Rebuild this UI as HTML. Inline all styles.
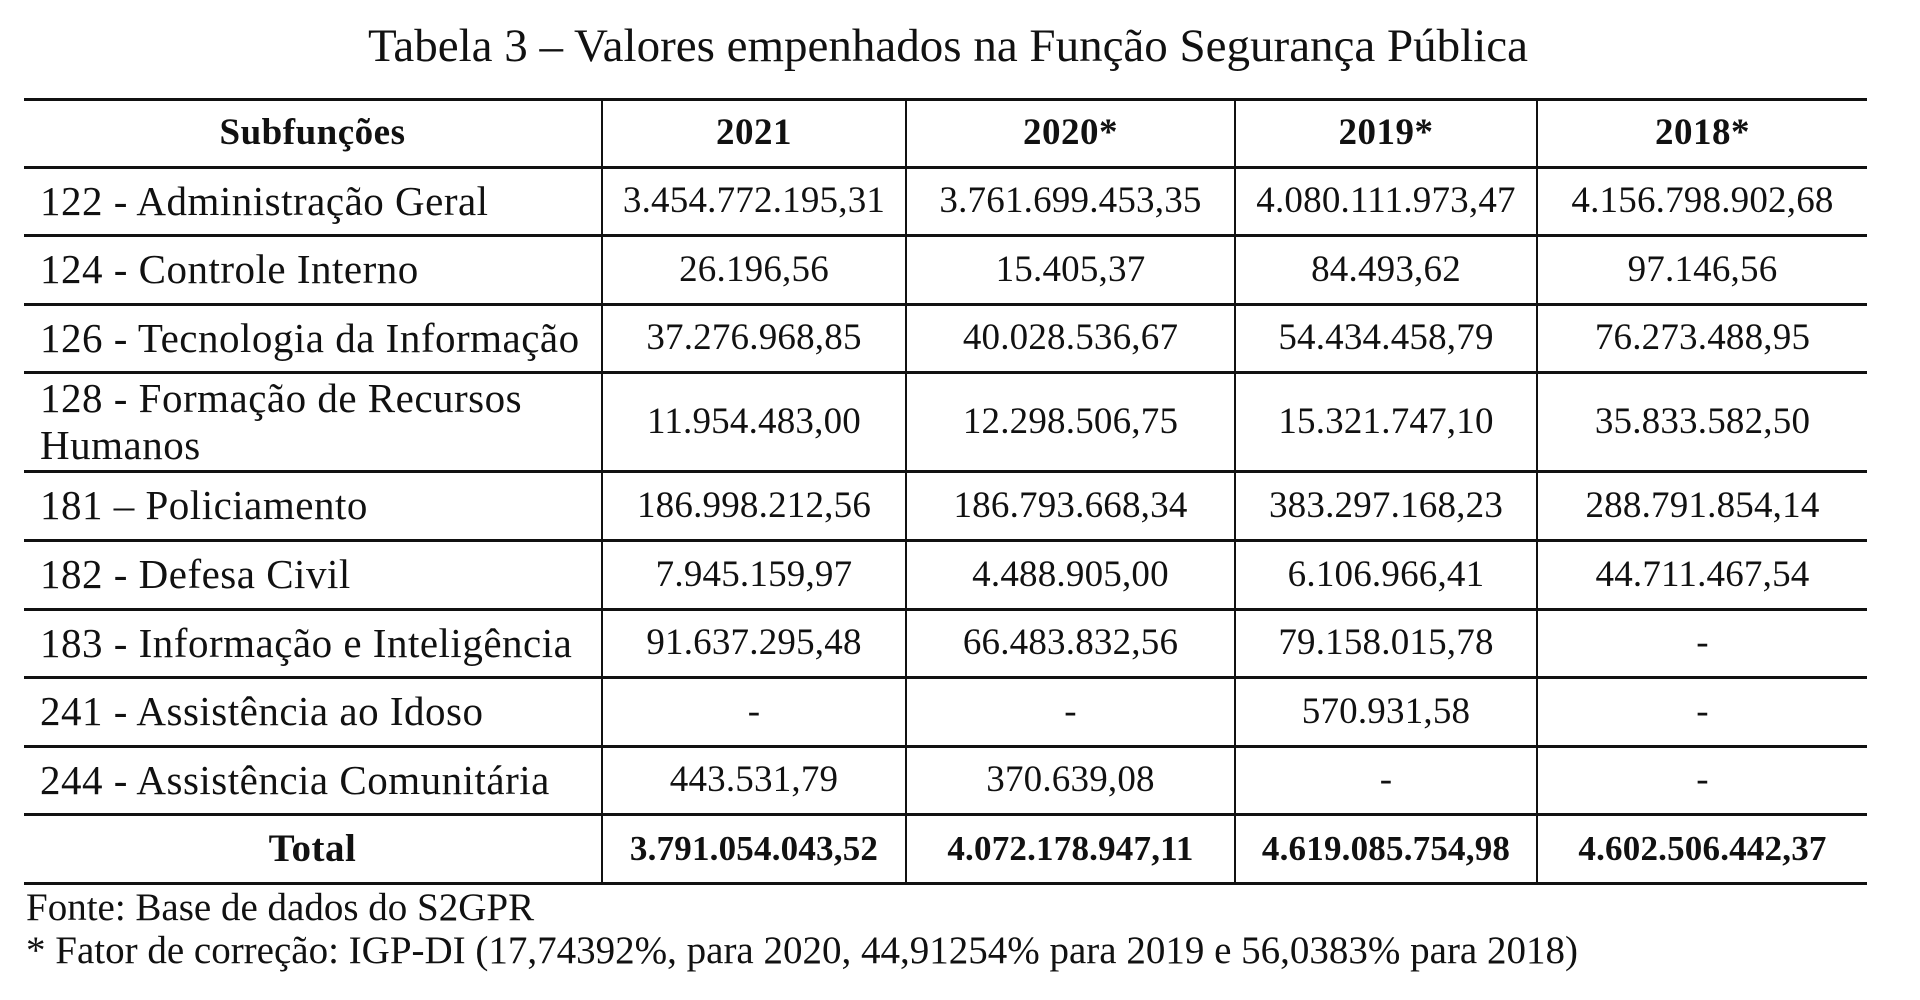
<!DOCTYPE html>
<html><head><meta charset="utf-8">
<style>
html,body{margin:0;padding:0;background:#fff;}
body{width:1920px;height:1000px;position:relative;overflow:hidden;font-family:"Liberation Serif",serif;color:#111;}
#title{position:absolute;left:0;width:1896px;top:19px;text-align:center;font-size:47px;}
table{position:absolute;left:24px;top:98px;width:1843px;border-collapse:collapse;table-layout:fixed;}
td,th{border-top:3px solid #111;border-bottom:3px solid #111;border-left:2px solid #111;border-right:2px solid #111;padding:0;font-size:37px;text-align:center;letter-spacing:0.2px;line-height:1.15;}
tr td:first-child{border-left:none;text-align:left;padding-left:16px;font-size:41px;letter-spacing:0.5px;}
tr th:first-child{border-left:none;}
tr td:last-child,tr th:last-child{border-right:none;}
th{font-weight:bold;font-size:37px;letter-spacing:0.5px;}
.tot td{font-weight:bold;font-size:35px;}
.tot td:first-child{text-align:center;padding-left:0;font-size:39px;}
.foot{position:absolute;left:26px;font-size:39px;}
</style></head>
<body>
<div id="title">Tabela 3 – Valores empenhados na Função Segurança Pública</div>
<table>
<colgroup><col style="width:578px"><col style="width:304px"><col style="width:329px"><col style="width:302px"><col style="width:330px"></colgroup>
<tr style="height:68px"><th>Subfunções</th><th>2021</th><th>2020*</th><th>2019*</th><th>2018*</th></tr>
<tr style="height:68px"><td>122 - Administração Geral</td><td>3.454.772.195,31</td><td>3.761.699.453,35</td><td>4.080.111.973,47</td><td>4.156.798.902,68</td></tr>
<tr style="height:69px"><td>124 - Controle Interno</td><td>26.196,56</td><td>15.405,37</td><td>84.493,62</td><td>97.146,56</td></tr>
<tr style="height:68px"><td>126 - Tecnologia da Informação</td><td>37.276.968,85</td><td>40.028.536,67</td><td>54.434.458,79</td><td>76.273.488,95</td></tr>
<tr style="height:99px"><td>128 - Formação de Recursos<br>Humanos</td><td>11.954.483,00</td><td>12.298.506,75</td><td>15.321.747,10</td><td>35.833.582,50</td></tr>
<tr style="height:69px"><td>181 – Policiamento</td><td>186.998.212,56</td><td>186.793.668,34</td><td>383.297.168,23</td><td>288.791.854,14</td></tr>
<tr style="height:69px"><td>182 - Defesa Civil</td><td>7.945.159,97</td><td>4.488.905,00</td><td>6.106.966,41</td><td>44.711.467,54</td></tr>
<tr style="height:68px"><td>183 - Informação e Inteligência</td><td>91.637.295,48</td><td>66.483.832,56</td><td>79.158.015,78</td><td>-</td></tr>
<tr style="height:69px"><td>241 - Assistência ao Idoso</td><td>-</td><td>-</td><td>570.931,58</td><td>-</td></tr>
<tr style="height:68px"><td>244 - Assistência Comunitária</td><td>443.531,79</td><td>370.639,08</td><td>-</td><td>-</td></tr>
<tr style="height:69px" class="tot"><td>Total</td><td>3.791.054.043,52</td><td>4.072.178.947,11</td><td>4.619.085.754,98</td><td>4.602.506.442,37</td></tr>
</table>
<div class="foot" style="top:885px">Fonte: Base de dados do S2GPR</div>
<div class="foot" style="top:928px">* Fator de correção: IGP-DI (17,74392%, para 2020, 44,91254% para 2019 e 56,0383% para 2018)</div>
</body></html>
